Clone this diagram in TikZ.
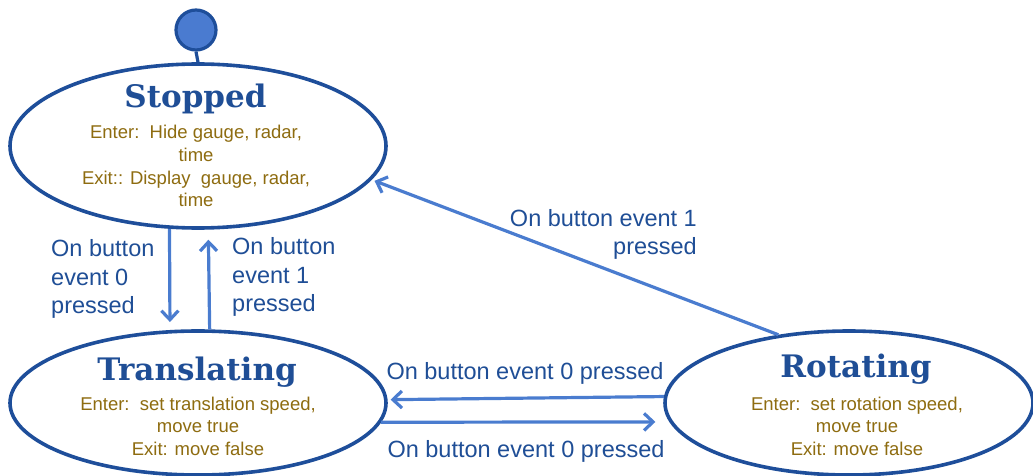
\documentclass[tikz,border=0pt]{standalone}
\usepackage{fontspec}
\setmainfont{Liberation Sans}
\newfontfamily\titlefont{DejaVu Serif}
\usetikzlibrary{shapes.geometric,arrows.meta}
\definecolor{estroke}{HTML}{1E4E9A}
\definecolor{arrowblue}{HTML}{4A7CCF}
\definecolor{labelblue}{HTML}{1F4E96}
\definecolor{bodygold}{HTML}{8E6C10}
\definecolor{initfill}{HTML}{4A7BD0}
\tikzset{
  statebox/.style={ellipse, draw=estroke, line width=3.6pt, inner sep=0pt, fill=white},
  titletext/.style={font=\titlefont\bfseries\fontsize{31}{34}\selectfont, text=labelblue, inner sep=0pt},
  bodytext/.style={font=\fontsize{18.5}{22.5}\selectfont, text=bodygold, align=center, inner sep=0pt},
  lbl/.style={font=\fontsize{23.5}{28.5}\selectfont, text=labelblue, inner sep=0pt},
  trans/.style={draw=arrowblue, line width=3.2pt, -{Straight Barb[length=9pt,width=17pt]}},
}
\begin{document}
\begin{tikzpicture}[x=1pt,y=-1pt]
\useasboundingbox (0,0) rectangle (1033,476);
\clip (0,0) rectangle (1033,476);
% states
\node[statebox, minimum width=376pt, minimum height=164pt] (stopped) at (198,146) {};
\node[statebox, minimum width=376pt, minimum height=144pt] (translating) at (198,403) {};
\node[statebox, minimum width=368pt, minimum height=144pt] (rotating) at (849,403) {};
% initial
\node[circle, draw=estroke, fill=initfill, line width=3.2pt, minimum size=40pt, inner sep=0pt] (init) at (196,30) {};
\draw[estroke, line width=3.2pt] (init.south) -- (stopped.north);
% titles and bodies
\node[titletext] (stoppedtitle) at (195.5,99) {Stopped};
\node[bodytext] (stoppedbody) at (196,166) {Enter:\ \ Hide gauge, radar,\\[0.5pt] time\\Exit:: Display\ \ gauge, radar,\\ time};
\node[titletext] (transtitle) at (197,372) {Translating};
\node[bodytext] (transbody) at (198,426) {Enter:\ \ set translation speed,\\ move true\\ Exit: move false};
\node[titletext] (rottitle) at (856,369) {Rotating};
\node[bodytext] (rotbody) at (857,426) {Enter:\ \ set rotation speed,\\ move true\\ Exit: move false};
% transitions
\draw[trans, shorten >=8pt] (stopped.251) -- (translating.111.7);
\draw[trans, shorten >=10pt] (translating.81.2) -- (stopped.277.6);
\draw[trans, shorten >=3pt] (rotating.178.1) -- (translating.1.8);
\draw[trans, shorten >=14pt] (translating.-6) -- (rotating.186.1);
\draw[trans, shorten >=3pt] (rotating.136.3) -- (stopped.-11);
% labels
\node[lbl, align=left, anchor=west] (l1) at (51,279) {On button\\event 0\\pressed};
\node[lbl, align=left, anchor=west] (l2) at (232,277) {On button\\event 1\\pressed};
\node[lbl, align=right, anchor=east] (l3) at (697,234.5) {On button event 1\\pressed};
\node[lbl] (l4) at (525,373) {On button event 0 pressed};
\node[lbl] (l5) at (526,451) {On button event 0 pressed};
\end{tikzpicture}
\end{document}
